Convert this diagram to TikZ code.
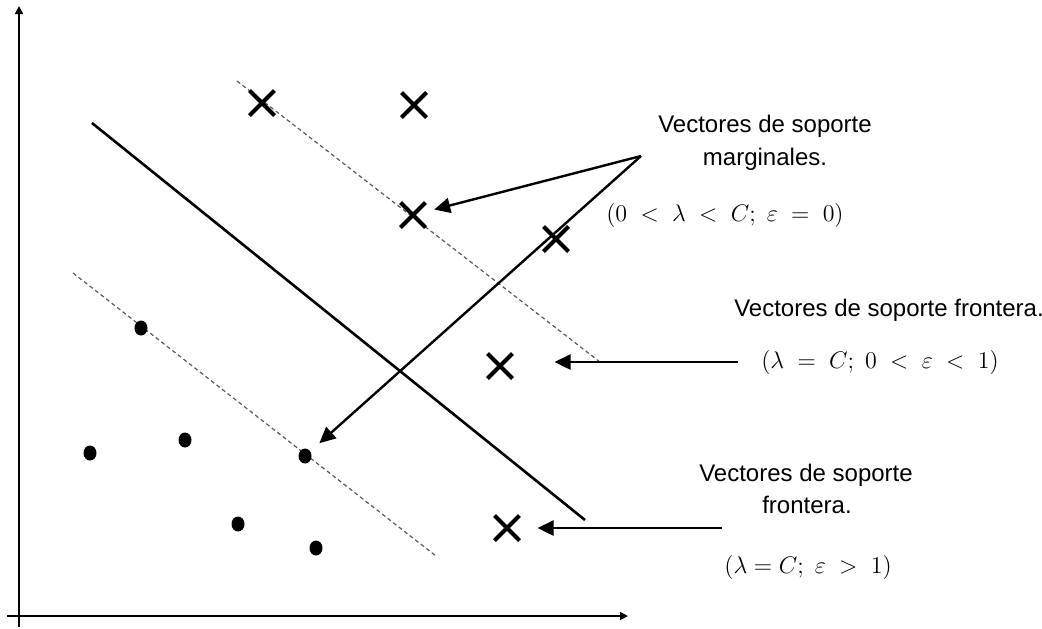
\documentclass[tikz,border=0pt]{standalone}
\usepackage{fontspec}
\setmainfont{Liberation Sans}
\usetikzlibrary{arrows.meta,shapes.misc,shapes.geometric}
\begin{document}
\begin{tikzpicture}[x=0.5pt,y=-0.5pt,
  axis/.style={line width=0.8pt,-{Triangle[length=4pt,width=4pt]}},
  sepline/.style={line width=1.3pt},
  marginline/.style={line width=0.6pt,draw=black!65,dash pattern=on 2pt off 1.5pt},
  xmark/.style={cross out,draw,line width=2pt,minimum size=10.5pt,inner sep=0pt},
  dotmark/.style={ellipse,fill,minimum width=6.5pt,minimum height=7.5pt,inner sep=0pt},
  ptr/.style={line width=1.2pt,-{Triangle[length=8pt,width=7.5pt]}},
  lbl/.style={font=\fontsize{12}{14}\selectfont,inner sep=0pt,anchor=base},
  frm/.style={font=\fontsize{12.5}{14}\selectfont,inner sep=0pt}]
\useasboundingbox (0,0) rectangle (1042,628);
% axes
\coordinate (ybot) at (19,627);
\coordinate (ytop) at (19,6);
\coordinate (xleft) at (7,616);
\coordinate (xright) at (628,616);
\draw[axis] (ybot) -- (ytop);
\draw[axis] (xleft) -- (xright);
% separating line and margins
\coordinate (s1) at (92,123);
\coordinate (s2) at (585,520);
\draw[sepline] (s1) -- (s2);
\coordinate (m1a) at (237,81);
\coordinate (m1b) at (600,362);
\coordinate (m2a) at (73,273);
\coordinate (m2b) at (436,556);
\draw[marginline] (m1a) -- (m1b);
\draw[marginline] (m2a) -- (m2b);
% crosses
\node[xmark] (x1) at (262,103) {};
\node[xmark] (x2) at (414,105) {};
\node[xmark] (x3) at (413,215) {};
\node[xmark] (x4) at (556,239) {};
\node[xmark] (x5) at (500,366) {};
\node[xmark] (x6) at (507,528) {};
% dots
\node[dotmark] (d1) at (141,328) {};
\node[dotmark] (d2) at (90,453) {};
\node[dotmark] (d3) at (185,440) {};
\node[dotmark] (d4) at (305,456) {};
\node[dotmark] (d5) at (238,524) {};
\node[dotmark] (d6) at (316,548) {};
% labels
\node[lbl] (l1a) at (765,132) {Vectores de soporte};
\node[lbl] (l1b) at (765,165) {marginales.};
\node[frm] (f1) at (725,215) {$(0\;<\;\lambda\;<\;C;\ \varepsilon\;=\;0)$};
\node[lbl] (l2) at (889,316) {Vectores de soporte frontera.};
\node[frm] (f2) at (880,362) {$(\lambda\;=\;C;\ 0\;<\;\varepsilon\;<\;1)$};
\node[lbl] (l3a) at (806,481) {Vectores de soporte};
\node[lbl] (l3b) at (807,513) {frontera.};
\node[frm] (f3) at (808,567) {$(\lambda = C;\ \varepsilon\;>\;1)$};
% pointers
\coordinate (j1) at (641,156);
\draw[ptr,shorten >=4.5pt] (j1) -- (x3);
\draw[ptr,shorten >=6pt] (j1) -- (d4);
\coordinate (a3) at (738,362);
\draw[ptr,shorten >=21pt] (a3) -- (x5.east |- a3);
\coordinate (a4) at (722,528);
\draw[ptr,shorten >=9pt] (a4) -- (x6);
\end{tikzpicture}
\end{document}
